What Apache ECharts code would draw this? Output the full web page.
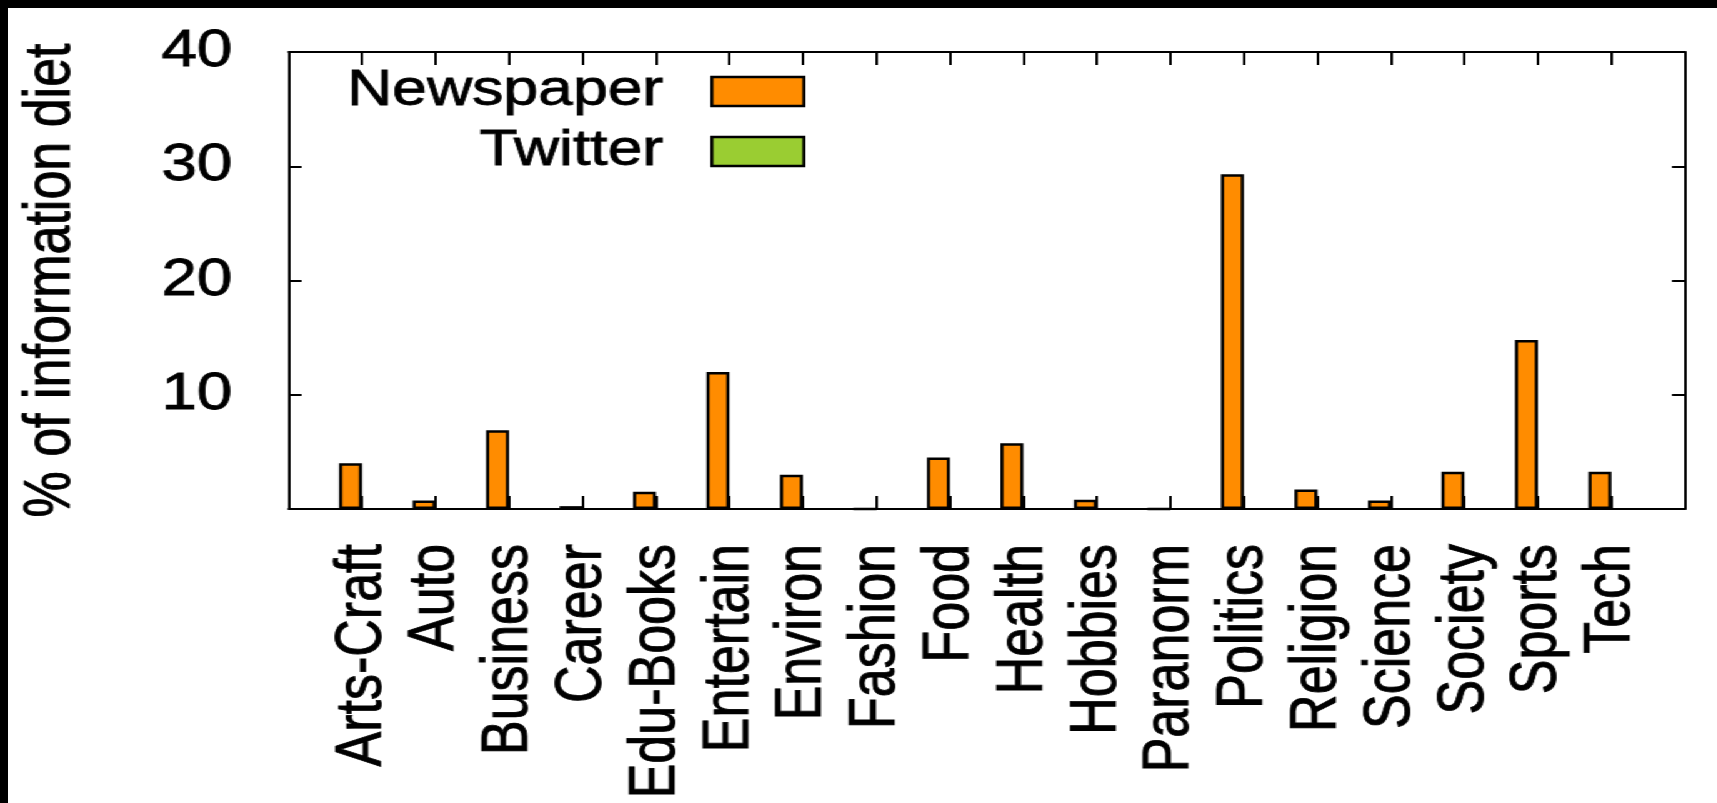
<!DOCTYPE html>
<html>
<head>
<meta charset="utf-8">
<script src="https://cdn.jsdelivr.net/npm/echarts@6/dist/echarts.min.js"></script>
<style>
  html, body { margin: 0; padding: 0; background: #000; width: 1717px; height: 803px; overflow: hidden; }
  /* chart is laid out narrow and stretched sideways to get the wide lettering */
  #chart { position: absolute; left: 8px; top: 8px; width: 1368px; height: 795px; background: #fff;
           transform: scaleX(1.25); transform-origin: 0 0; }
</style>
</head>
<body>
<div id="chart"></div>
<script>
// Topic categories along the x axis
const categories = ['Arts-Craft', 'Auto', 'Business', 'Career', 'Edu-Books', 'Entertain', 'Environ',
  'Fashion', 'Food', 'Health', 'Hobbies', 'Paranorm', 'Politics', 'Religion', 'Science',
  'Society', 'Sports', 'Tech'];

// Share of the information diet (%) per topic
const newspaper = [4.0, 0.75, 6.9, 0.25, 1.5, 12.0, 3.0, 0, 4.5, 5.75, 0.8, 0, 29.3, 1.7, 0.75, 3.25, 14.8, 3.25];
const twitter   = [0, 0, 0, 0, 0, 0, 0, 0, 0, 0, 0, 0, 0, 0, 0, 0, 0, 0];

// y-axis ticks and the labels printed beside them
const yTicks = [0, 10, 20, 30, 40];
const yTickLabels = ['', '10', '20', '30', '40'];

const FONT = 'Liberation Sans, Arial, Helvetica, sans-serif';
// thin outline on the lettering for a heavier stroke
const INK = { color: '#000', fontFamily: FONT, textBorderColor: '#000', textBorderWidth: 0.8 };

const chart = echarts.init(document.getElementById('chart'), null, { renderer: 'canvas' });

const frameLine = { show: true, onZero: false, lineStyle: { color: '#000', width: 2 } };

const xBase = {
  type: 'value',
  min: -1,
  max: categories.length,
  interval: 1,
  splitLine: { show: false },
  axisLine: frameLine,
  axisTick: { show: true, inside: true, length: 13, lineStyle: { color: '#000', width: 2 } }
};
const yBase = {
  type: 'value',
  min: yTicks[0],
  max: yTicks[yTicks.length - 1],
  interval: yTicks[1] - yTicks[0],
  splitLine: { show: false },
  axisLine: frameLine,
  axisTick: { show: true, inside: true, length: 10.4, lineStyle: { color: '#000', width: 2 } }
};

chart.setOption({
  animation: false,
  backgroundColor: '#fff',
  textStyle: { fontFamily: FONT },
  grid: { left: 223, right: 26.4, top: 44, bottom: 294, containLabel: false },
  legend: {
    data: ['Newspaper', 'Twitter'],
    orient: 'vertical',
    align: 'right',
    right: 730,
    top: 57.5,
    padding: 0,
    itemWidth: 73.6,
    itemHeight: 29,
    itemGap: 8,
    icon: 'rect',
    itemStyle: { borderColor: '#000', borderWidth: 2.5 },
    textStyle: Object.assign({}, INK, { fontSize: 50, lineHeight: 52, padding: [0, 34, 0, 0] })
  },
  xAxis: [
    Object.assign({}, xBase, {
      position: 'bottom',
      axisLabel: Object.assign({}, INK, {
        show: true, rotate: 90, margin: 35, fontSize: 52,
        formatter: v => categories[v] !== undefined ? categories[v] : ''
      })
    }),
    Object.assign({}, xBase, { position: 'top', axisLabel: { show: false } })
  ],
  yAxis: [
    Object.assign({}, yBase, {
      position: 'left',
      name: '% of information diet',
      nameLocation: 'middle',
      nameGap: 164,
      nameTextStyle: Object.assign({}, INK, { fontSize: 52 }),
      axisLabel: Object.assign({}, INK, {
        show: true, margin: 45, fontSize: 51,
        formatter: v => yTickLabels[yTicks.indexOf(v)] || ''
      })
    }),
    Object.assign({}, yBase, { position: 'right', axisLabel: { show: false } })
  ],
  series: [
    {
      name: 'Newspaper',
      type: 'bar',
      barWidth: 18.4,
      barGap: '0%',
      data: newspaper.map((v, i) => [i, v]),
      itemStyle: { color: '#ff8c00', borderColor: '#000', borderWidth: 2.5 }
    },
    {
      name: 'Twitter',
      type: 'bar',
      barWidth: 18.4,
      barGap: '0%',
      data: twitter.map((v, i) => [i, v]),
      itemStyle: { color: '#9acd32', borderColor: '#000', borderWidth: 1 }
    }
  ]
});
</script>
</body>
</html>
